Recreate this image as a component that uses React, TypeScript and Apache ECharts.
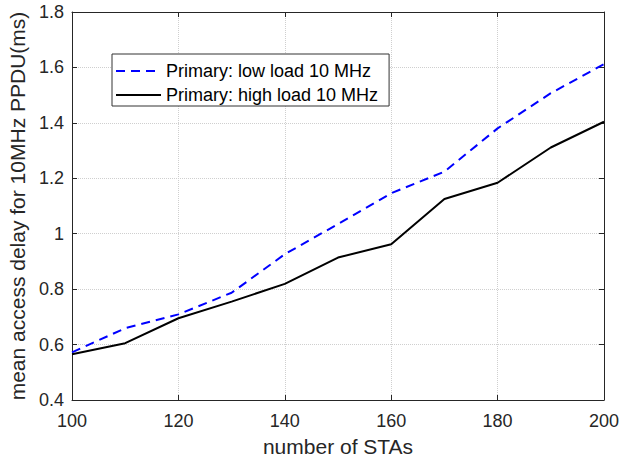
import React, { useEffect, useRef } from "react";
import * as echarts from "echarts";

const xValues = [100, 110, 120, 130, 140, 150, 160, 170, 180, 190, 200];
const lowLoad = [0.572, 0.659, 0.709, 0.787, 0.926, 1.035, 1.146, 1.224, 1.38, 1.507, 1.612];
const highLoad = [0.565, 0.605, 0.695, 0.755, 0.819, 0.914, 0.962, 1.125, 1.184, 1.311, 1.404];
const seriesNames = ["Primary: low load 10 MHz", "Primary: high load 10 MHz"];

export default function App() {
  const ref = useRef<HTMLDivElement>(null);
  useEffect(() => {
    if (!ref.current) return;
    const chart = echarts.init(ref.current, undefined, { renderer: "svg" });
    const font = "'Liberation Sans', Arial, sans-serif";
    const gridLine = { show: true, lineStyle: { color: "#cfcfcf", type: [1, 1] as any, width: 1 } };
    const axisColor = "#262626";
    chart.setOption({
      animation: false,
      backgroundColor: "#fff",
      textStyle: { fontFamily: font },
      grid: { left: 72, top: 12, right: 26, bottom: 60, containLabel: false, outerBoundsMode: "none" },
      legend: {
        orient: "vertical",
        left: 112,
        top: 54,
        itemWidth: 45,
        itemHeight: 12,
        itemGap: 6,
        padding: [8, 11, 2, 3],
        borderColor: "#333",
        borderWidth: 1,
        borderRadius: 0,
        backgroundColor: "#fff",
        itemStyle: { opacity: 0 },
        textStyle: { fontFamily: font, fontSize: 18, color: "#000" },
        data: seriesNames,
      },
      xAxis: [
        {
          type: "value",
          min: 100,
          max: 200,
          interval: 20,
          name: "number of STAs",
          nameLocation: "middle",
          nameGap: 36,
          nameTextStyle: { fontFamily: font, fontSize: 21, color: axisColor },
          axisLine: { show: true, lineStyle: { color: axisColor, width: 1 } },
          axisTick: { show: true, inside: true, length: 5, lineStyle: { color: axisColor } },
          axisLabel: { fontFamily: font, fontSize: 18, color: axisColor, margin: 12 },
          splitLine: gridLine,
        },
        {
          type: "value",
          position: "top",
          min: 100,
          max: 200,
          interval: 20,
          axisLine: { show: true, lineStyle: { color: axisColor, width: 1 } },
          axisTick: { show: true, inside: true, length: 5, lineStyle: { color: axisColor } },
          axisLabel: { show: false },
          splitLine: { show: false },
        },
      ],
      yAxis: [
        {
          type: "value",
          min: 0.4,
          max: 1.8,
          interval: 0.2,
          name: "mean access delay for 10MHz PPDU(ms)",
          nameLocation: "middle",
          nameGap: 40,
          nameTextStyle: { fontFamily: font, fontSize: 21, color: axisColor },
          axisLine: { show: true, lineStyle: { color: axisColor, width: 1 } },
          axisTick: { show: true, inside: true, length: 5, lineStyle: { color: axisColor } },
          axisLabel: {
            fontFamily: font,
            fontSize: 18,
            color: axisColor,
            margin: 8,
            formatter: (v: number) => String(Math.round(v * 10) / 10),
          },
          splitLine: gridLine,
        },
        {
          type: "value",
          position: "right",
          min: 0.4,
          max: 1.8,
          interval: 0.2,
          axisLine: { show: true, lineStyle: { color: axisColor, width: 1 } },
          axisTick: { show: true, inside: true, length: 5, lineStyle: { color: axisColor } },
          axisLabel: { show: false },
          splitLine: { show: false },
        },
      ],
      series: [
        {
          name: seriesNames[0],
          type: "line",
          data: xValues.map((x, i) => [x, lowLoad[i]]),
          symbol: "none",
          lineStyle: { color: "#0000ff", width: 2, type: [9, 6] as any },
          itemStyle: { color: "#0000ff" },
        },
        {
          name: seriesNames[1],
          type: "line",
          data: xValues.map((x, i) => [x, highLoad[i]]),
          symbol: "none",
          lineStyle: { color: "#000", width: 2, type: "solid" },
          itemStyle: { color: "#000" },
        },
      ],
    });
    return () => chart.dispose();
  }, []);
  return <div ref={ref} style={{ width: 630, height: 460, position: "absolute", left: 0, top: 0 }} />;
}
